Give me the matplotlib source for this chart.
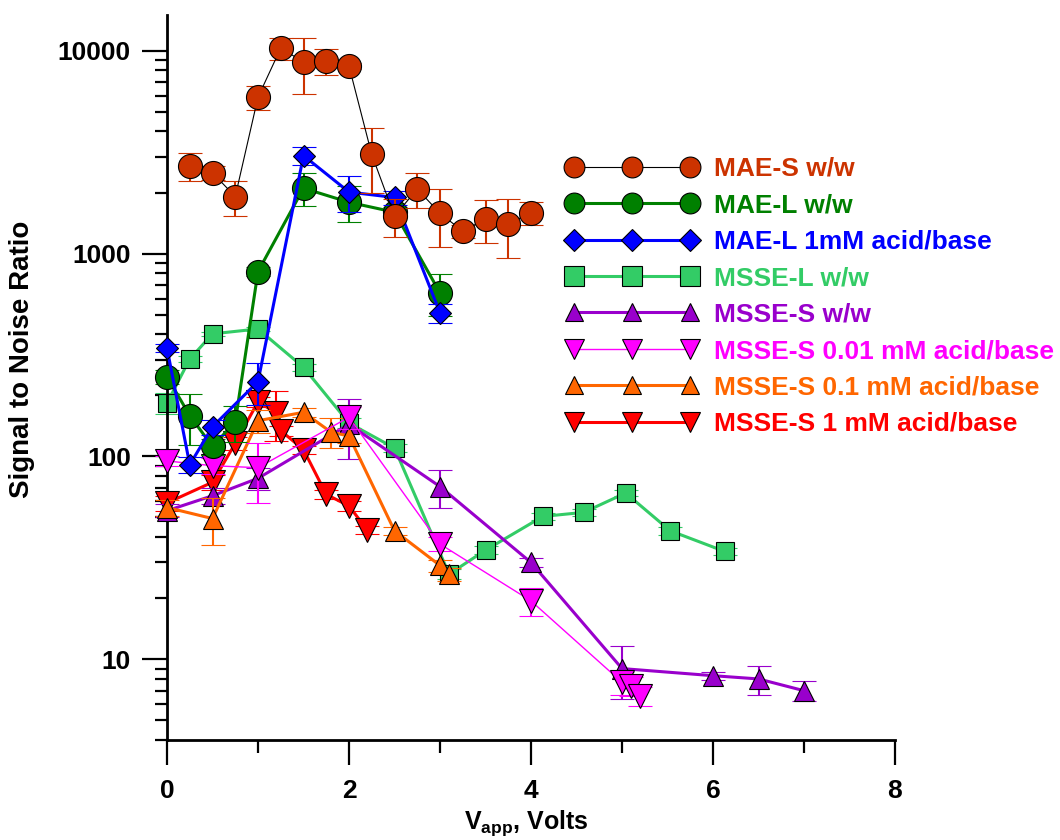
import numpy as np
import matplotlib
matplotlib.use('Agg')
import matplotlib.pyplot as plt
from matplotlib.lines import Line2D
from matplotlib.ticker import LogLocator, NullFormatter, MultipleLocator

plt.rcParams['font.family'] = ['Liberation Sans', 'DejaVu Sans']
plt.rcParams['font.weight'] = 'bold'
plt.rcParams['mathtext.fontset'] = 'custom'
plt.rcParams['mathtext.rm'] = 'Liberation Sans:bold'
plt.rcParams['mathtext.bf'] = 'Liberation Sans:bold'
plt.rcParams['mathtext.it'] = 'Liberation Sans:bold'

# MAE-S w/w
maes_x = [0.25, 0.5, 0.75, 1.0, 1.25, 1.5, 1.75, 2.0, 2.25, 2.5, 2.75, 3.0, 3.25, 3.5, 3.75, 4.0]
maes_y = [2700, 2500, 1910, 5900, 10300, 8800, 8850, 8400, 3080, 1530, 2080, 1580, 1290, 1480, 1400, 1590]
maes_e = [420, 200, 380, 800, 1300, 2700, 1300, 300, 1100, 320, 410, 500, 100, 350, 450, 200]

# MAE-L w/w
mael_x = [0, 0.25, 0.5, 0.75, 1.0, 1.5, 2.0, 2.5, 3.0]
mael_y = [247, 159, 112, 148, 815, 2100, 1790, 1600, 640]
mael_e = [20, 45, 10, 30, 40, 390, 360, 100, 150]

# MAE-L 1mM acid/base
maelab_x = [0, 0.25, 0.5, 1.0, 1.5, 2.0, 2.5, 3.0]
maelab_y = [342, 91, 140, 234, 3040, 2010, 1890, 510]
maelab_e = [15, 8, 12, 55, 300, 400, 150, 55]

# MSSE-L w/w
mssel_x = [0, 0.25, 0.5, 1.0, 1.5, 2.0, 2.5, 3.1, 3.5, 4.13, 4.58, 5.04, 5.53, 6.13]
mssel_y = [183, 302, 402, 425, 275, 146, 110, 26.3, 34.5, 50.6, 53, 66, 43, 34]
mssel_e = [22, 10, 8, 10, 10, 8, 5, 1.5, 1.5, 2, 2, 2.5, 2, 1.5]

# MSSE-S w/w
msses_x = [0, 0.5, 1.0, 2.0, 3.0, 4.0, 5.0, 6.0, 6.5, 7.0]
msses_y = [54, 64, 78, 144, 71, 30, 9.0, 8.3, 8.0, 7.0]
msses_e = [4, 6, 10, 47, 15, 1.5, 2.6, 0.4, 1.3, 0.8]

# MSSE-S 0.01 mM acid/base
ms001_x = [0, 0.5, 1.0, 2.0, 3.0, 4.0, 5.0, 5.1, 5.2]
ms001_y = [95, 90, 88, 156, 37, 19.4, 7.7, 7.4, 6.6]
ms001_e = [5, 8, 29, 20, 3, 3, 1, 0.8, 0.7]

# MSSE-S 0.1 mM acid/base
ms01_x = [0, 0.5, 1.0, 1.5, 1.8, 2.0, 2.5, 3.0, 3.1]
ms01_y = [56, 49.4, 150, 165, 132, 126, 43, 29, 26.3]
ms01_e = [5, 13, 20, 8, 22, 10, 2, 2, 2]

# MSSE-S 1 mM acid/base
ms1_x = [0, 0.5, 0.75, 1.0, 1.2, 1.25, 1.5, 1.75, 2.0, 2.2]
ms1_y = [59, 74.6, 116, 186, 164, 134, 108, 65, 57, 43.4]
ms1_e = [5, 6, 8, 10, 45, 8, 5, 3, 3, 2]

labels = ['MAE-S w/w', 'MAE-L w/w', 'MAE-L 1mM acid/base', 'MSSE-L w/w',
          'MSSE-S w/w', 'MSSE-S 0.01 mM acid/base', 'MSSE-S 0.1 mM acid/base',
          'MSSE-S 1 mM acid/base']
colors = ['#CC3300', '#008000', '#0000FF', '#33CC66', '#9900CC', '#FF00FF', '#FF6600', '#FF0000']
line_colors = ['black', '#008000', '#0000FF', '#33CC66', '#9900CC', '#FF00FF', '#FF6600', '#FF0000']
markers = ['o', 'o', 'D', 's', '^', 'v', '^', 'v']
msizes = [17.3, 17.3, 11.7, 13.5, 15, 17.5, 15, 17.5]
lwidths = [0.8, 2.2, 2.2, 2.2, 2.2, 1.0, 2.2, 2.2]
legend_ms = [15, 15, 10.7, 15, 13, 15, 13, 15]
zorders = [9, 7, 8, 2, 4, 6, 5, 3]

series = [(maes_x, maes_y, maes_e), (mael_x, mael_y, mael_e), (maelab_x, maelab_y, maelab_e),
          (mssel_x, mssel_y, mssel_e), (msses_x, msses_y, msses_e), (ms001_x, ms001_y, ms001_e),
          (ms01_x, ms01_y, ms01_e), (ms1_x, ms1_y, ms1_e)]

fig = plt.figure(figsize=(10.6, 8.4), dpi=100)
ax = fig.add_axes([167 / 1060, 1 - 740 / 840, 728 / 1060, 725 / 840])

for i, (x, y, e) in enumerate(series):
    cont = ax.errorbar(x, y, yerr=e, fmt=markers[i] + '-', color=line_colors[i],
                       mfc=colors[i], mec='black', mew=0.8, ms=msizes[i], lw=lwidths[i],
                       ecolor=colors[i], elinewidth=1.5, capsize=8.5, capthick=1.5,
                       zorder=zorders[i])
    for art in cont.get_children():
        art.set_clip_on(False)

ax.set_yscale('log')
ax.set_xlim(0, 8)
ax.set_ylim(4, 15000)
ax.set_xticks([0, 2, 4, 6, 8])
ax.xaxis.set_minor_locator(MultipleLocator(1))
ax.set_yticks([10, 100, 1000, 10000])
ax.set_yticklabels(['10', '100', '1000', '10000'])
ax.yaxis.set_minor_locator(LogLocator(base=10, subs=np.arange(2, 10)))
ax.yaxis.set_minor_formatter(NullFormatter())

ax.spines['top'].set_visible(False)
ax.spines['right'].set_visible(False)
ax.spines['left'].set_linewidth(2)
ax.spines['bottom'].set_linewidth(2)
ax.tick_params(which='major', length=18, width=1.6, labelsize=19, direction='out')
ax.tick_params(which='minor', length=9, width=1.6, direction='out')
ax.tick_params(axis='x', which='major', pad=10)
ax.tick_params(axis='y', which='major', pad=8)

ax.set_ylabel('Signal to Noise Ratio', fontsize=20, fontweight='bold', va='center')
ax.yaxis.set_label_coords(-0.199, 0.5255)
ax.set_xlabel(r'V$_{\mathrm{app}}$, Volts', fontsize=18, fontweight='bold', va='center')
ax.xaxis.set_label_coords(0.493, -0.114)

handles = [Line2D([], [], color=line_colors[i], lw=lwidths[i], marker=markers[i],
                  ms=legend_ms[i], mfc=colors[i], mec='black', mew=0.8)
           for i in range(len(labels))]
leg = ax.legend(handles, labels, loc='upper left', numpoints=3, frameon=False,
                bbox_to_anchor=(566 / 1060, 1 - 157 / 840), bbox_transform=fig.transFigure,
                borderaxespad=0, borderpad=0, handlelength=5.0, handletextpad=0.6,
                labelspacing=0.47, prop={'size': 19, 'weight': 'bold'})
leg.set_zorder(20)
for t, c in zip(leg.get_texts(), colors):
    t.set_color(c)

fig.savefig('out.png', dpi=100)
